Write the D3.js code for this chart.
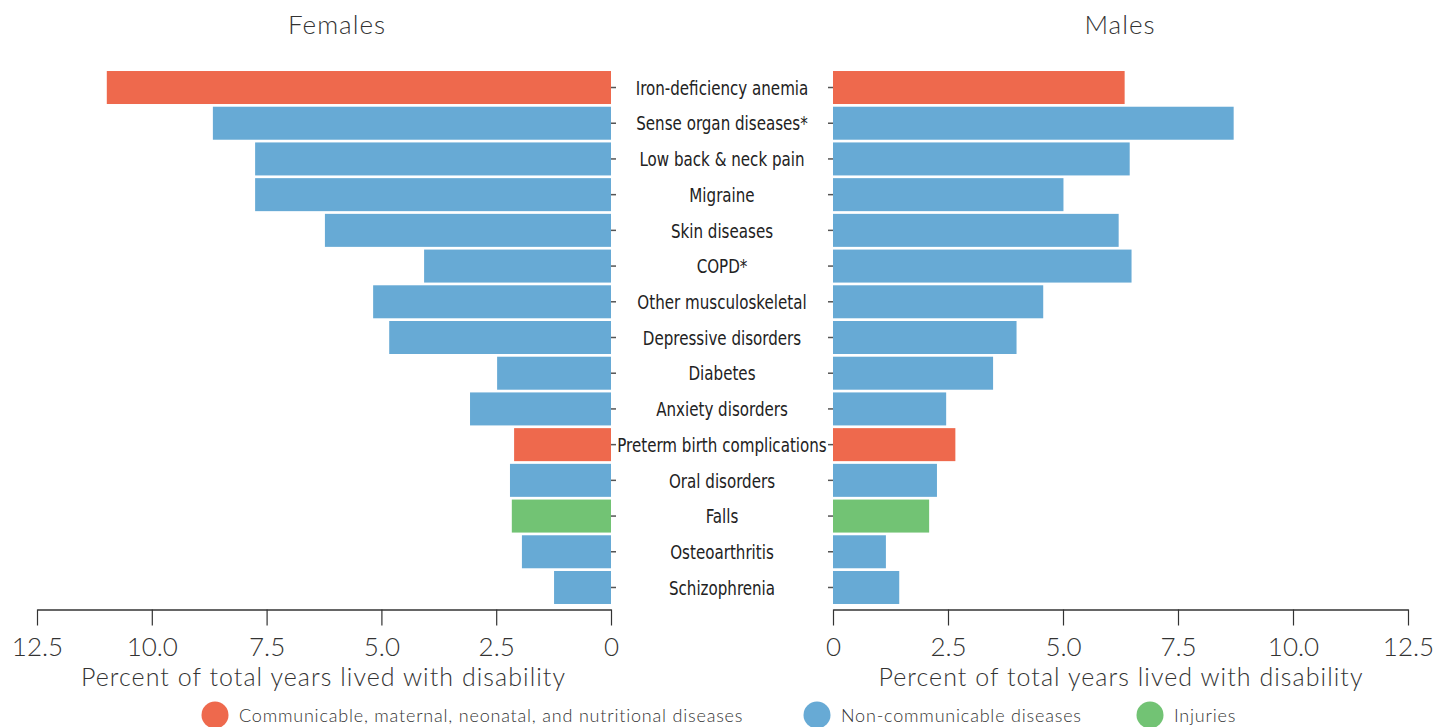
<!DOCTYPE html>
<html>
<head>
<meta charset="utf-8">
<script src="https://cdn.jsdelivr.net/npm/d3@7"></script>
<style>
  html, body { margin: 0; padding: 0; background: #fff; }
  svg { display: block; }
  .light { font-family: Lato, "Open Sans", sans-serif; font-weight: 300; fill: #333; }
  .cat { font-family: "DejaVu Sans Condensed", "DejaVu Sans", sans-serif; fill: #222; }
</style>
</head>
<body>
<svg id="chart" width="1435" height="727"></svg>
<script>
const categories = [
  "Iron-deficiency anemia", "Sense organ diseases*", "Low back & neck pain", "Migraine",
  "Skin diseases", "COPD*", "Other musculoskeletal", "Depressive disorders", "Diabetes",
  "Anxiety disorders", "Preterm birth complications", "Oral disorders", "Falls",
  "Osteoarthritis", "Schizophrenia"
];
const femaleValues = [10.98, 8.67, 7.75, 7.75, 6.23, 4.07, 5.18, 4.83, 2.48, 3.07, 2.11, 2.20, 2.16, 1.94, 1.24];
const maleValues   = [6.34, 8.71, 6.45, 5.01, 6.21, 6.49, 4.57, 3.99, 3.48, 2.46, 2.66, 2.26, 2.09, 1.15, 1.44];
const groupOf = ["CMNN", "NCD", "NCD", "NCD", "NCD", "NCD", "NCD", "NCD", "NCD", "NCD", "CMNN", "NCD", "INJ", "NCD", "NCD"];
const groupKeys = ["CMNN", "NCD", "INJ"];
const groupLabels = ["Communicable, maternal, neonatal, and nutritional diseases", "Non-communicable diseases", "Injuries"];
const groupColors = ["#EE694D", "#67AAD5", "#72C374"];
const tickValues = [0, 2.5, 5, 7.5, 10, 12.5];
const panelTitles = ["Females", "Males"];
const axisTitle = "Percent of total years lived with disability";

const svg = d3.select("#chart");
const color = d3.scaleOrdinal().domain(groupKeys).range(groupColors);

const y = d3.scaleBand().domain(categories).range([68.3, 606.7]).padding(0.076);
const xL = d3.scaleLinear().domain([0, 12.5]).range([611, 37]);
const xR = d3.scaleLinear().domain([0, 12.5]).range([833, 1408]);
const axisY = 609.5;

const rows = categories.map((c, i) => ({ c, f: femaleValues[i], m: maleValues[i], g: groupOf[i] }));

// Female bars
svg.append("g").selectAll("rect").data(rows).join("rect")
  .attr("x", d => xL(d.f)).attr("width", d => xL(0) - xL(d.f))
  .attr("y", d => y(d.c)).attr("height", y.bandwidth())
  .attr("fill", d => color(d.g));
// Male bars
svg.append("g").selectAll("rect").data(rows).join("rect")
  .attr("x", xR(0)).attr("width", d => xR(d.m) - xR(0))
  .attr("y", d => y(d.c)).attr("height", y.bandwidth())
  .attr("fill", d => color(d.g));

// Category tick marks
const yTickL = svg.append("g").attr("transform", `translate(${xL(0)},0)`)
  .call(d3.axisRight(y).tickSize(5).tickFormat(""));
const yTickR = svg.append("g").attr("transform", `translate(${xR(0)},0)`)
  .call(d3.axisLeft(y).tickSize(5).tickFormat(""));
[yTickL, yTickR].forEach(g => {
  g.select(".domain").remove();
  g.selectAll("line").attr("stroke", "#555").attr("stroke-width", 1.5);
});

// Category labels (condensed look via horizontal scaling)
svg.append("g").selectAll("text").data(categories).join("text")
  .attr("class", "cat")
  .attr("transform", d => `translate(722,${y(d) + y.bandwidth() / 2}) scale(0.84,1)`)
  .attr("dy", "0.36em").attr("text-anchor", "middle")
  .attr("font-size", 20).text(d => d);

// X axes
const fmt = d => d === 0 ? "0" : d3.format(".1f")(d);
[xL, xR].forEach(sc => {
  const g = svg.append("g").attr("transform", `translate(0,${axisY})`)
    .call(d3.axisBottom(sc).tickValues(tickValues).tickFormat(fmt).tickSize(16).tickSizeOuter(0));
  g.select(".domain").attr("stroke", "#333").attr("stroke-width", 1.5);
  g.selectAll(".tick line").attr("stroke", "#333").attr("stroke-width", 1.2);
  g.selectAll(".tick text").attr("class", "light").attr("font-size", 26).attr("dy", 0).attr("y", 46.5).attr("fill", "#333");
});

// Axis titles
[323.5, 1121].forEach(cx => {
  svg.append("text").attr("class", "light").attr("x", cx).attr("y", 686)
    .attr("text-anchor", "middle").attr("font-size", 25).attr("letter-spacing", 1.05).text(axisTitle);
});

// Panel titles
svg.append("text").attr("class", "light").attr("x", 337).attr("y", 34)
  .attr("text-anchor", "middle").attr("font-size", 26).attr("letter-spacing", 1).text(panelTitles[0]);
svg.append("text").attr("class", "light").attr("x", 1120).attr("y", 34)
  .attr("text-anchor", "middle").attr("font-size", 26).attr("letter-spacing", 1).text(panelTitles[1]);

// Legend
const legendX = [215, 817, 1150];
const lg = svg.append("g").selectAll("g").data(groupKeys).join("g")
  .attr("transform", (d, i) => `translate(${legendX[i]},715)`);
lg.append("circle").attr("r", 13.5).attr("fill", d => color(d));
lg.append("text").attr("class", "light").attr("x", 24).attr("y", 7)
  .attr("font-size", 18).attr("letter-spacing", 0.8).text((d, i) => groupLabels[i]);
</script>
</body>
</html>
